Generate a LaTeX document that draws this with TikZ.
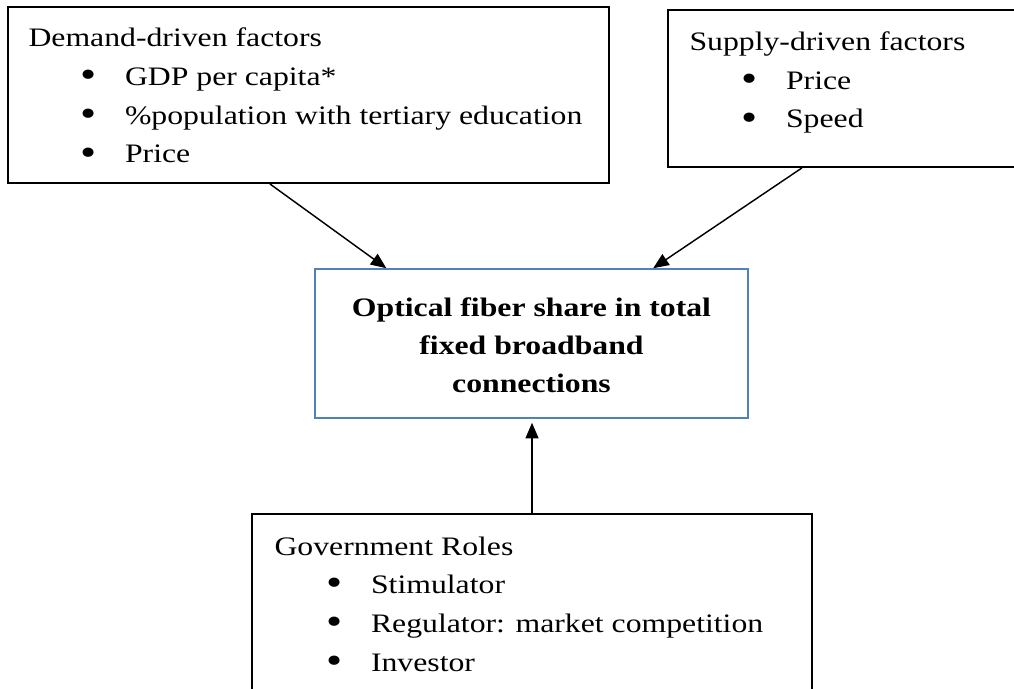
\documentclass[tikz,border=0pt]{standalone}
\usepackage{fontspec}
\setmainfont{Liberation Serif}
\usepackage{tikz}
\usetikzlibrary{arrows.meta,calc}
\definecolor{boxblue}{RGB}{79,129,189}
\newcommand{\itm}[1]{\\\hspace*{19.5pt}\makebox[17pt][l]{\raisebox{-0.08em}{\scalebox{1.45}{\textbullet}}}#1}

\begin{document}
\begin{tikzpicture}[x=0.45pt,y=-0.45pt]
            \tikzstyle{box}=[draw,line width=0.85pt,inner sep=0pt]
            \tikzstyle{txt}=[inner sep=0pt,anchor=base west,align=left,xscale=1.19,transform shape,font=\fontsize{12pt}{17.4pt}\selectfont]
            \tikzstyle{arr}=[line width=0.65pt,-{Triangle[length=7pt,width=5.8pt]}]
            \clip (0,0) rectangle (1014,688);

            \node[box,minimum width=270.45pt,minimum height=79.2pt] (D) at (308.5,95) {};
            \node[box,minimum width=158.4pt,minimum height=70.65pt] (S) at (844,88.5) {};
            \node[box,draw=boxblue,line width=0.7pt,minimum width=194.85pt,minimum height=67.05pt] (F) at (531.5,343.5) {};
            \node[box,minimum width=252pt,minimum height=83.7pt] (G) at (532,607) {};

            % base anchor sits on the last line
            \node[txt] (Dtext) at (28,163) {Demand-driven factors\itm{GDP per capita*}\itm{\%population with tertiary education}\itm{Price}};
            \node[txt] (Stext) at (689,128) {Supply-driven factors\itm{Price}\itm{Speed}};
            \node[txt,anchor=base,align=center,font=\fontsize{12pt}{16.9pt}\selectfont\bfseries] (Ftext) at (531.5,392) {Optical fiber share in total\\fixed broadband\\connections};
            \node[txt] (Gtext) at (274,671) {Government Roles\itm{Stimulator}\itm{Regulator: market competition}\itm{Investor}};

            \draw[arr] ($(D.south west)!0.436!(D.south east)$) -- ($(F.north west)!0.166!(F.north east)$);
            \draw[arr] ($(S.south west)!0.381!(S.south east)$) -- ($(F.north west)!0.78!(F.north east)$);
            \draw[arr] (G.north) -- ($(G.north |- F.south)+(0,4)$);
        \end{tikzpicture}
\end{document}
